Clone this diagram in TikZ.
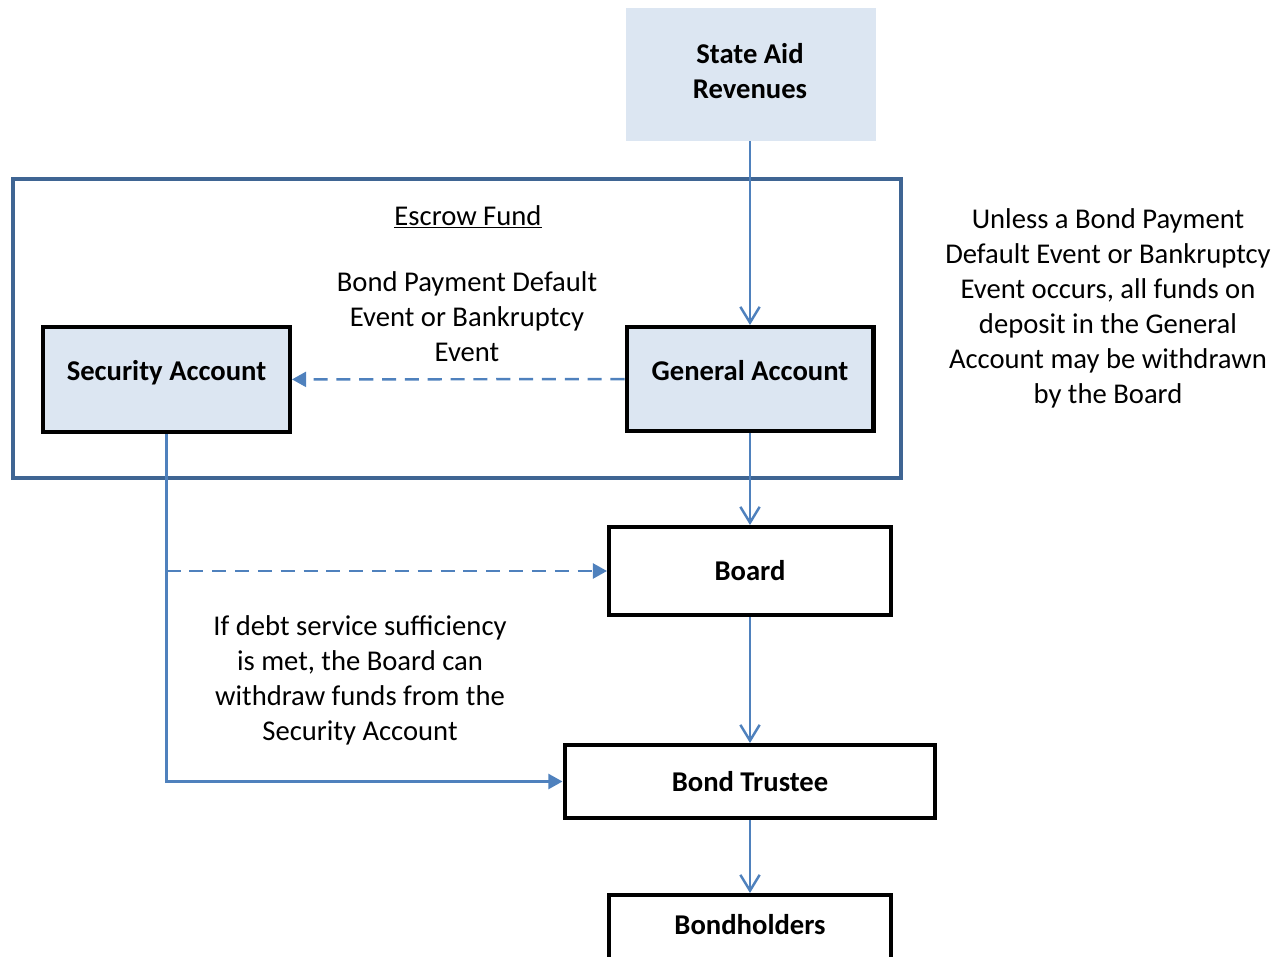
\documentclass[tikz,border=0pt]{standalone}
\usepackage{fontspec}
\setmainfont{Carlito}
\usetikzlibrary{arrows.meta}
\definecolor{boxfill}{HTML}{DCE6F2}
\definecolor{flowblue}{HTML}{4F81BD}
\definecolor{framecol}{HTML}{3F6593}
\begin{document}
\begin{tikzpicture}[x=0.02cm, y=-0.02cm,
		font=\fontsize{16.3}{19.9}\selectfont,
		account/.style = {rectangle, draw, line width = 2.3pt, fill = boxfill,
		text height = 12pt, text depth = 10.5pt,
		font=\fontsize{16.3}{19.9}\selectfont\bfseries},
		party/.style = {rectangle, draw, line width = 2.3pt, fill = white,
		font=\fontsize{16.3}{19.9}\selectfont\bfseries},
		flow/.style = {draw = flowblue, line width = 1.4pt,
		-{Straight Barb[length=9pt, width=11pt]}},
		dflow/.style = {draw = flowblue, line width = 1.4pt,
		dash pattern = on 8pt off 5pt, -{Triangle[length=8pt, width=8.5pt]}},
		sflow/.style = {draw = flowblue, line width = 1.4pt,
		-{Triangle[length=8pt, width=8.5pt]}},
		note/.style = {align = center}]

	\useasboundingbox (0,0) rectangle (1286,957);

	\fill [boxfill] (626,8) rectangle (876,141);
	\node [align = center, font=\fontsize{16.3}{19.9}\selectfont\bfseries]
		(aid) at (750,71) {State Aid\\Revenues};
	\coordinate (aidfoot) at (750,141);

	\draw [framecol, line width = 2.3pt] (13,179) rectangle (901,478);
	\node (escrow) at (468,217) {\underline{Escrow Fund}};

	\node [account, minimum width = 4.94cm, minimum height = 2.1cm]
		(security) at (166.5,379.5) {Security Account};
	\node [account, minimum width = 4.94cm, minimum height = 2.08cm]
		(general) at (750,379) {General Account};
	\node [party, minimum width = 5.64cm, minimum height = 1.76cm]
		(board) at (750,571) {Board};
	\node [party, minimum width = 7.42cm, minimum height = 1.46cm]
		(trustee) at (750,781.5) {Bond Trustee};
	\node [party, anchor = north, minimum width = 5.64cm,
		text height = 11.5pt, text depth = 1cm, inner ysep = 0.38cm]
		(holders) at (750,893) {Bondholders};

	\node [note] (event) at (467,317)
		{Bond Payment Default\\Event or Bankruptcy\\Event};
	\node [note] (unless) at (1108,308)
		{Unless a Bond Payment\\Default Event or Bankruptcy\\Event occurs, all funds on\\deposit in the General\\Account may be withdrawn\\by the Board};
	\node [note] (suff) at (360,680)
		{If debt service sufficiency\\is met, the Board can\\withdraw funds from the\\Security Account};

	\draw [flow] (aidfoot) -- (general.north);
	\draw [flow] (general) -- (board);
	\draw [flow] (board) -- (trustee);
	\draw [flow] (trustee) -- (holders);
	\draw [dflow] (general) -- (security);

	\coordinate (split) at (security.south |- board.west);
	\draw [dflow] (split) -- (board.west);
	\draw [sflow] (security.south) |- (trustee.west);
\end{tikzpicture}
\end{document}
